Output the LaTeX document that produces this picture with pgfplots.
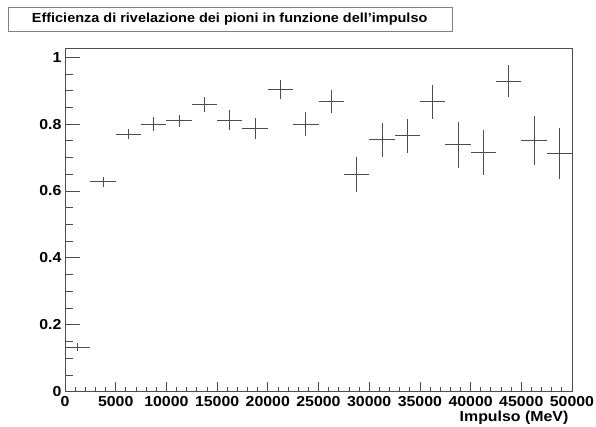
\documentclass[border=0pt]{standalone}
\usepackage{fontspec}
\setmainfont{Liberation Sans}
\newfontfamily\rf{Liberation Sans}[FakeStretch=1.1]
\usepackage{pgfplots}
\usepackage{pgfplotstable}
\pgfplotsset{compat=1.18}
\pgfplotstableread{
x y ey
1250 0.133 0.012
3750 0.628 0.015
6250 0.770 0.016
8750 0.800 0.020
11250 0.810 0.018
13750 0.858 0.023
16250 0.812 0.029
18750 0.786 0.032
21250 0.904 0.028
23750 0.800 0.037
26250 0.867 0.034
28750 0.650 0.052
31250 0.753 0.051
33750 0.765 0.051
36250 0.867 0.051
38750 0.738 0.068
41250 0.716 0.067
43750 0.929 0.048
46250 0.751 0.072
48750 0.713 0.076
}\datatable
\begin{document}
\begin{tikzpicture}
\path[use as bounding box] (0,0) rectangle (596bp,427bp);
\begin{axis}[
  at={(65bp,35.3bp)}, anchor=south west,
  scale only axis, width=507bp, height=343.2bp,
  xmin=0, xmax=50000, ymin=0, ymax=1.026,
  axis line style={black!70, line width=0.8bp},
  tick pos=left, tick align=inside,
  xtick={0,5000,...,50000},
  xticklabels={0,5000,10000,15000,20000,25000,30000,35000,40000,45000,50000},
  ytick={0,0.2,0.4,0.6,0.8,1},
  yticklabels={0,0.2,0.4,0.6,0.8,1},
  minor x tick num=4, minor y tick num=3,
  major x tick style={/pgfplots/major tick length=10bp, black!70, line width=0.8bp},
  minor x tick style={/pgfplots/minor tick length=5bp, black!70, line width=0.8bp},
  major y tick style={/pgfplots/major tick length=15bp, black!70, line width=0.8bp},
  minor y tick style={/pgfplots/minor tick length=8bp, black!70, line width=0.8bp},
  scaled x ticks=false,
  ticklabel style={font=\rf\bfseries\fontsize{14.5}{14.5}\selectfont},
  xticklabel style={yshift=-1bp},
  xlabel={Impulso (MeV)},
  xlabel style={font=\rf\bfseries\fontsize{14.5}{14.5}\selectfont, at={(rel axis cs:1,0)}, anchor=north east, inner sep=0pt, yshift=-19bp, xshift=-3.5bp},
]
\addplot[draw=none, mark=none,
  error bars/.cd, x dir=both, x fixed=1250, y dir=both, y explicit,
  error mark=none, error bar style={draw=black!70, line width=0.7bp}]
  table[x=x, y=y, y error=ey] {\datatable};
\end{axis}
\draw[gray, line width=1bp] (8.3bp,419.7bp) rectangle (452.3bp,395.3bp);
\node[anchor=west, inner sep=0pt, font=\rf\bfseries\fontsize{13.2}{13.2}\selectfont] at (31.7bp,407.5bp) {Efficienza di rivelazione dei pioni in funzione dell’impulso};
\end{tikzpicture}
\end{document}
